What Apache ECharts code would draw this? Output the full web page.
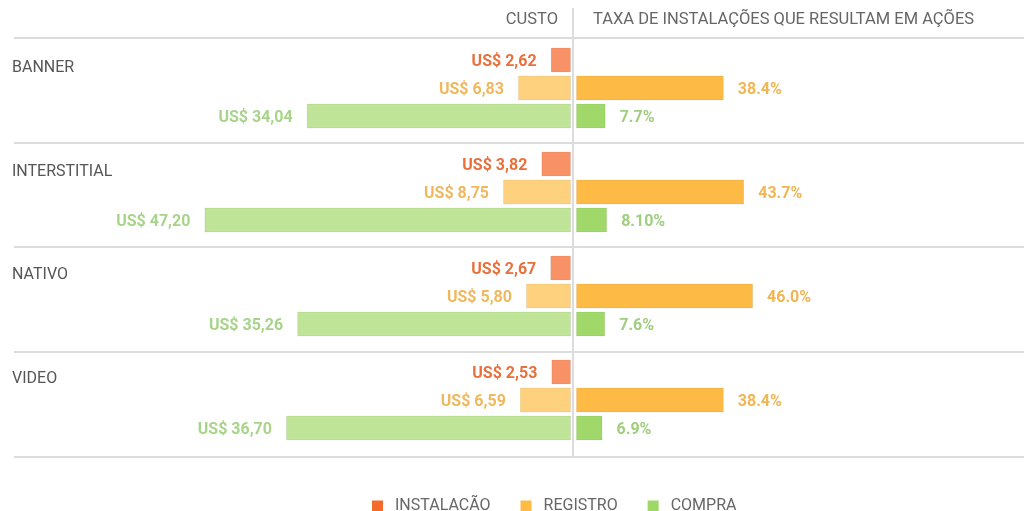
<!DOCTYPE html>
<html>
<head>
<meta charset="utf-8">
<script src="https://cdn.jsdelivr.net/npm/echarts@6/dist/echarts.min.js"></script>
<style>
  html, body { margin: 0; padding: 0; background: #fff; }
  #chart { width: 1024px; height: 511px; }
</style>
</head>
<body>
<div id="chart"></div>
<script>
const groups = ["BANNER", "INTERSTITIAL", "NATIVO", "VIDEO"];
const rows = ["INSTALACÃO", "REGISTRO", "COMPRA"];
const custoInstalacao = [2.62, 3.82, 2.67, 2.53];
const custoRegistro = [6.83, 8.75, 5.8, 6.59];
const custoCompra = [34.04, 47.2, 35.26, 36.7];
const taxaRegistro = [38.4, 43.7, 46.0, 38.4];
const taxaCompra = [7.7, 8.1, 7.6, 6.9];
const taxaCompraLabels = ["7.7%", "8.10%", "7.6%", "6.9%"];

const font = "Roboto, 'Noto Sans', sans-serif";
const grey = "#666";

const colors = {
  instalacao: { bar: "#f89266", label: "#e8703c", legend: "#f26a2c" },
  registroCusto: { bar: "#fdd17e", label: "#f0b85e" },
  registroTaxa: { bar: "#fdbb45", label: "#f0b554", legend: "#fdbb45" },
  compraCusto: { bar: "#bfe497", label: "#a8d48a" },
  compraTaxa: { bar: "#a0d869", label: "#9fcf7e", legend: "#9fd866" },
};

function money(v) {
  return "US$ " + v.toFixed(2).replace(".", ",");
}

const grids = [];
const xAxes = [];
const yAxes = [];
const series = [];

function barSeries(name, axis, slot, value, style, side, text) {
  const data = rows.map((_, i) => (i === slot ? value : "-"));
  return {
    name,
    type: "bar",
    xAxisIndex: axis,
    yAxisIndex: axis,
    data,
    barWidth: 25,
    barGap: "-100%",
    silent: true,
    itemStyle: { color: style.bar, borderColor: "rgba(0,0,0,0.06)", borderWidth: 1 },
    label: {
      show: true,
      position: side,
      distance: 14,
      offset: [0, 1.5],
      color: style.label,
      fontFamily: font,
      fontWeight: "bold",
      fontSize: 16,
      formatter: () => text,
    },
  };
}

groups.forEach((g, gi) => {
  const top = 46 + 104 * gi;
  const left = gi * 2;
  const right = gi * 2 + 1;
  grids.push({ left: 105, right: 453, top, height: 84 });
  grids.push({ left: 576, right: 63, top, height: 84 });
  [left, right].forEach((idx) => {
    xAxes.push({
      gridIndex: idx,
      type: "value",
      min: 0,
      max: idx === left ? 60 : 100,
      inverse: idx === left,
      show: false,
    });
    yAxes.push({
      gridIndex: idx,
      type: "category",
      data: rows,
      inverse: true,
      show: false,
    });
  });
  series.push(barSeries(rows[0], left, 0, custoInstalacao[gi], colors.instalacao, "left", money(custoInstalacao[gi])));
  series.push(barSeries(rows[1], left, 1, custoRegistro[gi], colors.registroCusto, "left", money(custoRegistro[gi])));
  series.push(barSeries(rows[2], left, 2, custoCompra[gi], colors.compraCusto, "left", money(custoCompra[gi])));
  series.push(barSeries(rows[1], right, 1, taxaRegistro[gi], colors.registroTaxa, "right", taxaRegistro[gi].toFixed(1) + "%"));
  series.push(barSeries(rows[2], right, 2, taxaCompra[gi], colors.compraTaxa, "right", taxaCompraLabels[gi]));
});

// separators, divider, headers and group names
const graphics = [];
[38, 143, 247, 352, 457].forEach((y) => {
  graphics.push({
    type: "line",
    shape: { x1: 14, y1: y, x2: 1024, y2: y },
    style: { stroke: "#dcdcdc", lineWidth: 2 },
    silent: true,
  });
});
graphics.push({
  type: "line",
  shape: { x1: 573, y1: 8, x2: 573, y2: 458 },
  style: { stroke: "#dcdcdc", lineWidth: 2 },
  silent: true,
  z: 10,
});
graphics.push({
  type: "text",
  x: 558,
  y: 20,
  style: { text: "CUSTO", fill: grey, font: "16.5px " + font, textAlign: "right", textVerticalAlign: "middle" },
});
graphics.push({
  type: "text",
  x: 593,
  y: 20,
  style: { text: "TAXA DE INSTALAÇÕES QUE RESULTAM EM AÇÕES", fill: grey, font: "16.5px " + font, textAlign: "left", textVerticalAlign: "middle" },
});
groups.forEach((g, gi) => {
  graphics.push({
    type: "text",
    x: 12,
    y: 68 + 103.5 * gi,
    style: { text: g, fill: "#555", font: "16px " + font, textAlign: "left", textVerticalAlign: "middle" },
  });
});

const chart = echarts.init(document.getElementById("chart"), null, { renderer: "canvas" });
chart.setOption({
  animation: false,
  grid: grids,
  xAxis: xAxes,
  yAxis: yAxes,
  series,
  legend: {
    left: 372,
    top: 498,
    padding: 0,
    itemWidth: 11,
    itemHeight: 11,
    itemGap: 30,
    icon: "rect",
    selectedMode: false,
    textStyle: { color: grey, fontSize: 16, fontFamily: font, padding: [0, 0, 0, 7] },
    data: [
      { name: rows[0], itemStyle: { color: colors.instalacao.legend, borderWidth: 0 } },
      { name: rows[1], itemStyle: { color: colors.registroTaxa.legend, borderWidth: 0 } },
      { name: rows[2], itemStyle: { color: colors.compraTaxa.legend, borderWidth: 0 } },
    ],
  },
  graphic: graphics,
});
</script>
</body>
</html>
